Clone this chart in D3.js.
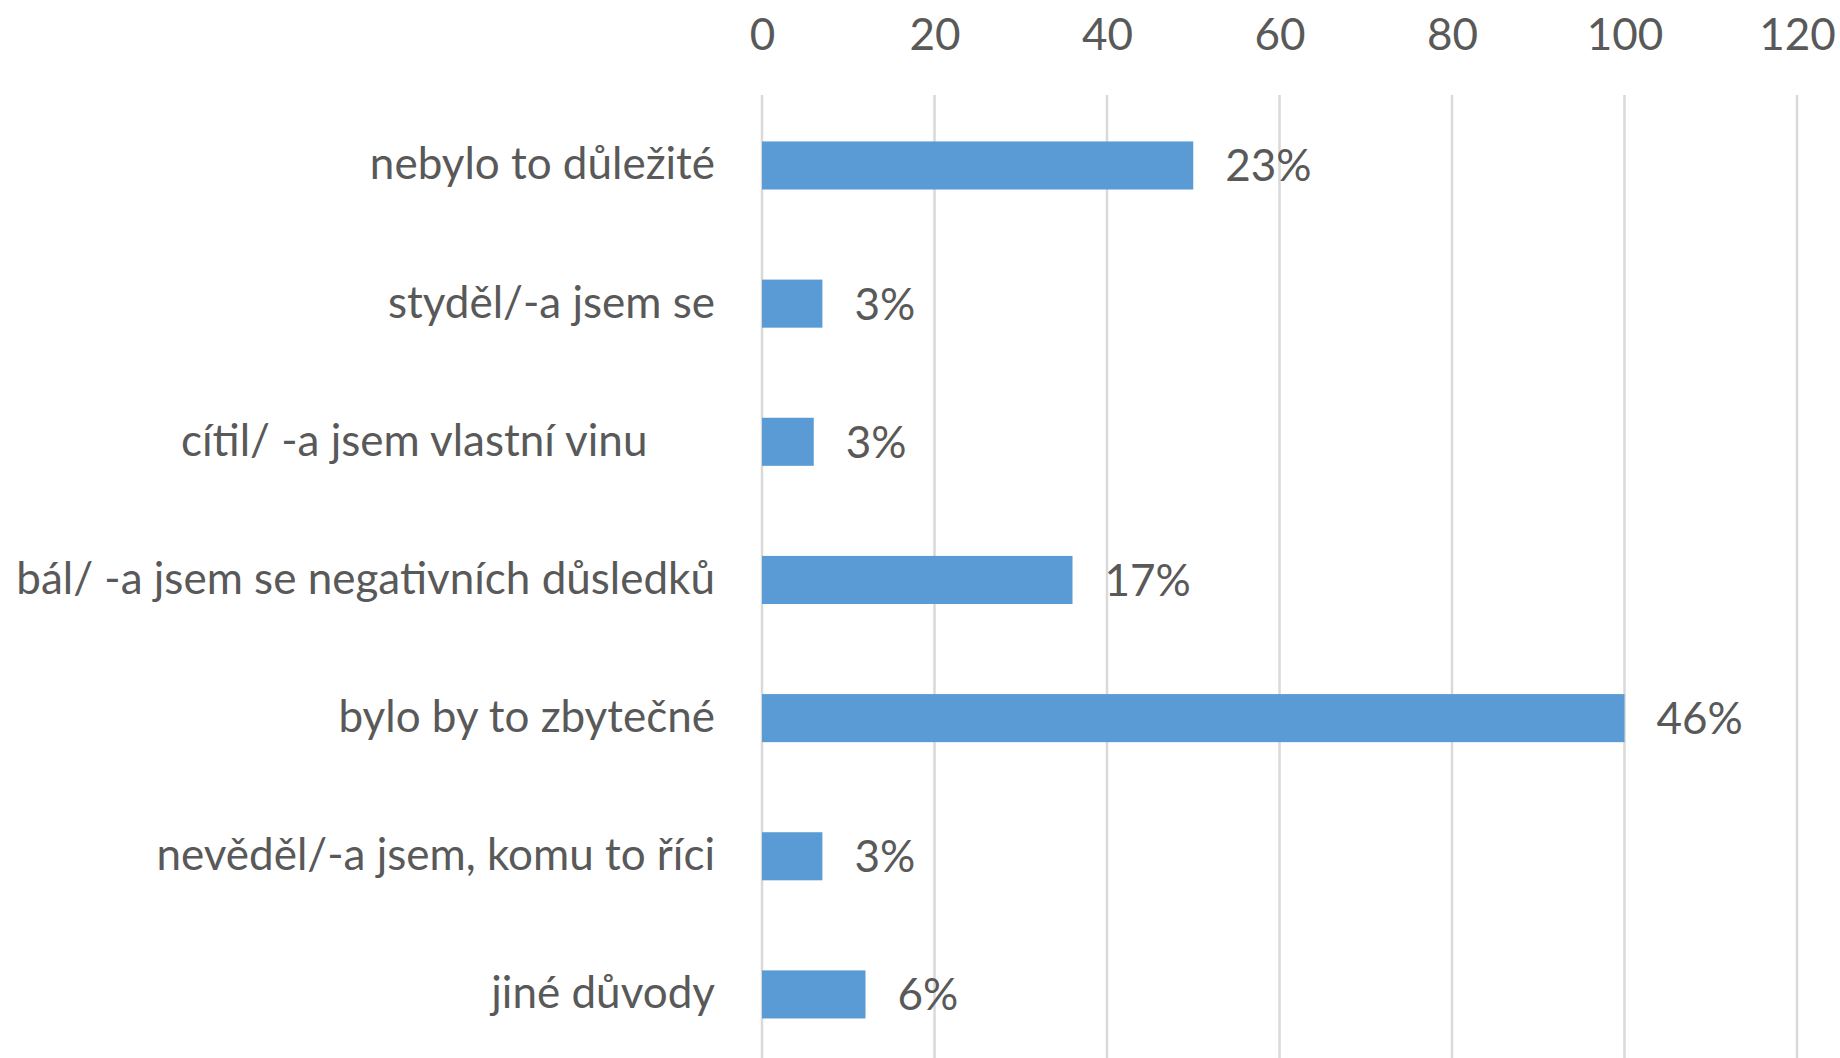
<!DOCTYPE html>
<html><head><meta charset="utf-8">
<script src="https://cdn.jsdelivr.net/npm/d3@7"></script>
<style>html,body{margin:0;padding:0;background:#fff;overflow:hidden}text{white-space:pre}</style>
</head><body>
<svg id="c" width="1840" height="1058"></svg>
<script>
const categories = [
  "nebylo to důležité",
  "styděl/-a jsem se",
  "cítil/ -a jsem vlastní vinu      ",
  "bál/ -a jsem se negativních důsledků",
  "bylo by to zbytečné",
  "nevěděl/-a jsem, komu to říci",
  "jiné důvody"
];
const values = [50, 7, 6, 36, 100, 7, 12];
const valueLabels = ["23%", "3%", "3%", "17%", "46%", "3%", "6%"];
const tickValues = [0, 20, 40, 60, 80, 100, 120];

const FONT = "Lato, 'Open Sans', sans-serif";
const FS = 44;
const TXT = "#595959";

const svg = d3.select("#c");
const x = d3.scaleLinear().domain([0, 120]).range([762, 1797]);
const y = d3.scaleBand().domain(categories).range([96.4, 1063.5]).paddingInner(0.652).paddingOuter(0.326);

// gridlines
svg.append("g").selectAll("line").data(tickValues).join("line")
  .attr("x1", d => x(d)).attr("x2", d => x(d))
  .attr("y1", 95).attr("y2", 1058)
  .attr("stroke", "#d9d9d9").attr("stroke-width", 2.5);

// top axis labels
const axis = d3.axisTop(x).tickValues(tickValues).tickSize(0).tickPadding(0);
const ag = svg.append("g").attr("transform", "translate(0,50)").call(axis);
ag.select(".domain").remove();
ag.selectAll("text").attr("font-family", FONT).attr("font-size", FS).attr("fill", TXT).attr("dy", 0);

// bars
svg.append("g").selectAll("rect").data(values).join("rect")
  .attr("x", x(0))
  .attr("y", (d, i) => y(categories[i]))
  .attr("width", d => x(d) - x(0))
  .attr("height", y.bandwidth())
  .attr("fill", "#5b9bd5");

// value labels
svg.append("g").selectAll("text").data(values).join("text")
  .attr("x", d => x(d) + 32)
  .attr("y", (d, i) => y(categories[i]) + y.bandwidth() / 2 + 16)
  .attr("font-family", FONT).attr("font-size", FS).attr("fill", TXT)
  .text((d, i) => valueLabels[i]);

// category labels
svg.append("g").selectAll("text").data(categories).join("text")
  .attr("x", 715)
  .attr("y", d => y(d) + y.bandwidth() / 2 + 14)
  .attr("text-anchor", "end")
  .attr("font-family", FONT).attr("font-size", FS).attr("fill", TXT)
  .text(d => d);
</script>
</body></html>
